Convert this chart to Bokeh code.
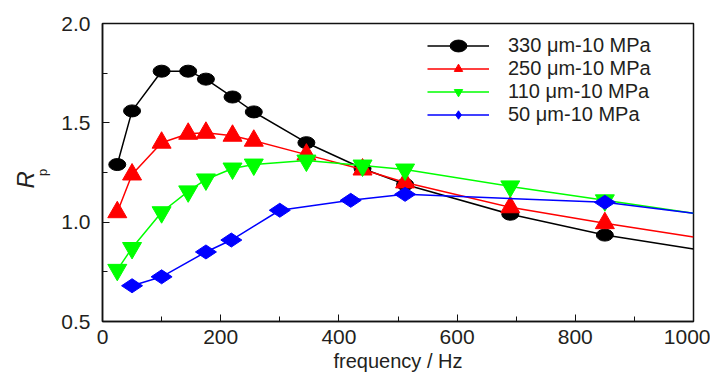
import math
from bokeh.plotting import figure
from bokeh.models import (Legend, LegendItem, Title, FixedTicker, NumeralTickFormatter,
                          Range1d)
from bokeh.embed import file_html
from bokeh.resources import INLINE

# ---- data ----
freq = [25, 50, 100, 145, 175, 220, 256, 345, 440, 512, 690, 850]
rp_330 = [1.29, 1.56, 1.76, 1.76, 1.72, 1.63, 1.555, 1.40, 1.27, 1.19, 1.04, 0.935]
rp_250 = [1.05, 1.24, 1.40, 1.445, 1.45, 1.435, 1.41, 1.34, 1.265, 1.20, 1.075, 0.995]
rp_110 = [0.76, 0.87, 1.05, 1.155, 1.215, 1.27, 1.29, 1.31, 1.285, 1.265, 1.18, 1.11]
freq_50 = [50, 100, 175, 218, 300, 420, 512, 850]
rp_50 = [0.68, 0.725, 0.85, 0.91, 1.06, 1.11, 1.14, 1.10]
# where each connecting line leaves the plot at the right edge (x = 1000)
x_edge = 1000
edge_330, edge_250, edge_110, edge_50 = 0.865, 0.925, 1.045, 1.045

labels = ["330 \u03bcm-10 MPa", "250 \u03bcm-10 MPa", "110 \u03bcm-10 MPa", "50 \u03bcm-10 MPa"]
colors = ["#000000", "#ff0000", "#00ff00", "#0000ff"]

x_ticks = [0, 200, 400, 600, 800, 1000]
x_minor = [100, 300, 500, 700, 900]
y_ticks = [0.5, 1.0, 1.5, 2.0]
y_minor = [0.75, 1.25, 1.75]

FONT = "Liberation Sans"
TXT = "#231f20"

p = figure(width=710, height=374, output_backend="svg", toolbar_location=None,
           x_range=Range1d(0, 1000), y_range=Range1d(0.5, 2.0),
           min_border_left=102, min_border_right=17, min_border_top=23, min_border_bottom=53)
p.background_fill_color = "white"
p.border_fill_color = "white"
p.grid.visible = False
p.outline_line_color = "#111111"
p.outline_line_width = 1.5

for ax in (p.xaxis[0], p.yaxis[0]):
    ax.axis_line_width = 1.5
    ax.axis_line_color = "#111111"
    ax.major_tick_in = 7
    ax.major_tick_out = 0
    ax.minor_tick_in = 5
    ax.minor_tick_out = 0
    ax.major_tick_line_color = "#111111"
    ax.minor_tick_line_color = "#111111"
    ax.major_label_text_font = FONT
    ax.major_label_text_font_size = "21px"
    ax.major_label_text_color = TXT

p.xaxis[0].ticker = FixedTicker(ticks=x_ticks, minor_ticks=x_minor)
p.yaxis[0].ticker = FixedTicker(ticks=y_ticks, minor_ticks=y_minor)
p.yaxis[0].formatter = NumeralTickFormatter(format="0.0")
p.xaxis[0].major_label_standoff = 8
p.yaxis[0].major_label_standoff = 12
p.xaxis[0].axis_label = "frequency / Hz"
p.xaxis[0].axis_label_text_font = FONT
p.xaxis[0].axis_label_text_font_size = "20px"
p.xaxis[0].axis_label_text_font_style = "normal"
p.xaxis[0].axis_label_text_color = TXT
p.xaxis[0].axis_label_standoff = 3

# y-axis title: italic R (side title) with subscript p (axis label)
p.yaxis[0].axis_label = "p"
p.yaxis[0].axis_label_text_font = FONT
p.yaxis[0].axis_label_text_font_size = "13px"
p.yaxis[0].axis_label_text_font_style = "normal"
p.yaxis[0].axis_label_text_color = TXT
p.yaxis[0].axis_label_standoff = 8

items = []
series = [
    (freq, rp_330, edge_330, "ellipse"),
    (freq, rp_250, edge_250, "triangle"),
    (freq, rp_110, edge_110, "inverted_triangle"),
    (freq_50, rp_50, edge_50, "diamond"),
]
for (xs, ys, edge, mk), col, lab in zip(series, colors, labels):
    lr = p.line(list(xs) + [x_edge], list(ys) + [edge], line_color=col, line_width=1.5)
    if mk == "ellipse":
        mr = p.ellipse(x=xs, y=ys, width=17, height=12, width_units="screen",
                       height_units="screen", fill_color=col, line_color=col)
    elif mk == "diamond":
        mr = p.scatter(x=xs, y=ys, marker="diamond", size=21, angle=math.pi / 2,
                       fill_color=col, line_color=col)
    else:
        mr = p.scatter(x=xs, y=ys, marker=mk, size=19, fill_color=col, line_color=col)
    items.append(LegendItem(label=lab, renderers=[lr, mr]))

legend = Legend(items=items, location=(325, 195), padding=0, margin=0, spacing=0,
                glyph_width=62, glyph_height=21, label_height=21, label_standoff=19,
                label_text_font=FONT, label_text_font_size="20px", label_text_color=TXT,
                border_line_color=None, background_fill_alpha=0)
p.add_layout(legend, "center")

p.add_layout(Title(text="R", align="left", offset=133, standoff=-12,
                   text_font=FONT, text_font_size="24px", text_font_style="italic",
                   text_color=TXT), "left")

open("out.html", "w").write(file_html(p, INLINE))
